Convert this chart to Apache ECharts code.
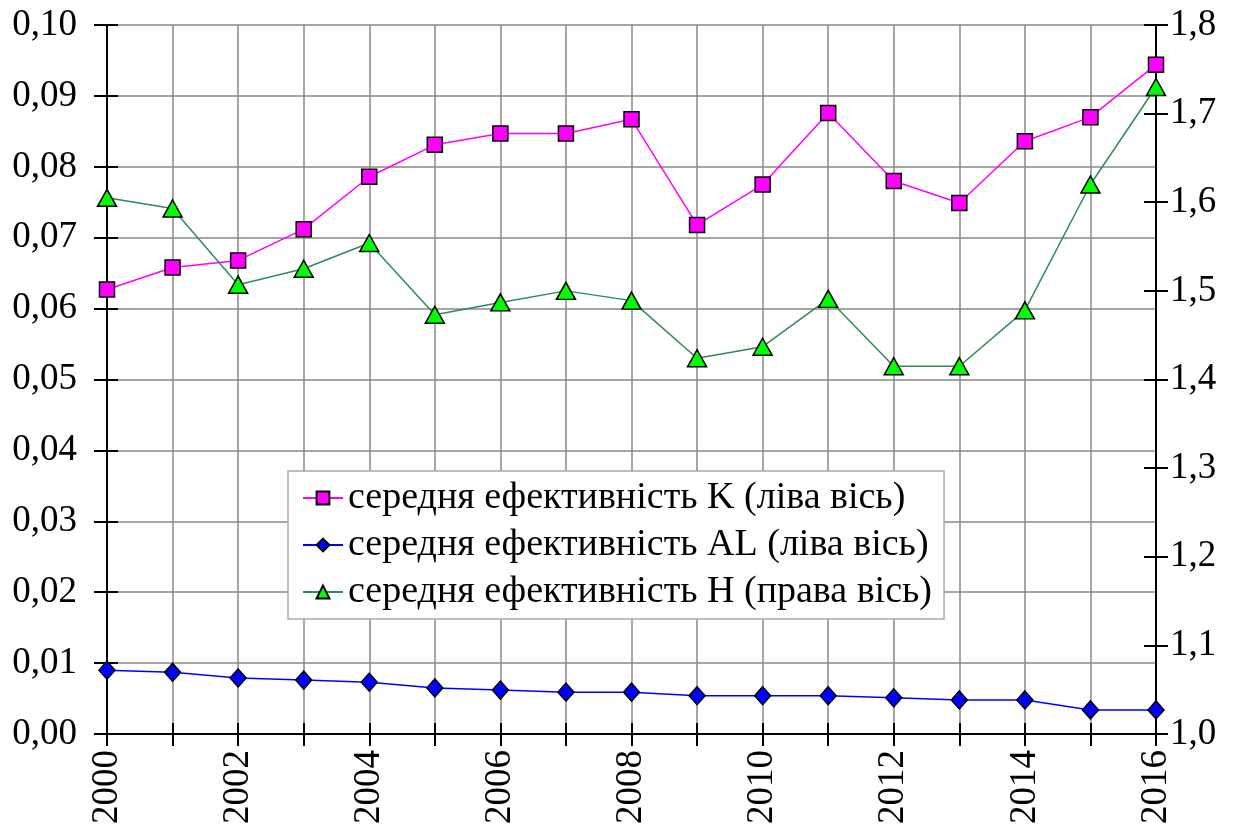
<!DOCTYPE html>
<html><head><meta charset="utf-8">
<script src="https://cdn.jsdelivr.net/npm/echarts@6/dist/echarts.min.js"></script>
<style>html,body{margin:0;padding:0;background:#fff}#c{width:1251px;height:836px}</style>
</head><body><div id="c"></div>
<script>
const years = ['2000','2001','2002','2003','2004','2005','2006','2007','2008','2009','2010','2011','2012','2013','2014','2015','2016'];
const seriesK = [0.0627,0.0658,0.0668,0.0712,0.0786,0.0831,0.0847,0.0847,0.0867,0.0718,0.0775,0.0876,0.0780,0.0749,0.0836,0.0870,0.0944];
const seriesAL = [0.0090,0.0087,0.0079,0.0076,0.0073,0.0065,0.0062,0.0059,0.0059,0.0054,0.0054,0.0054,0.0051,0.0048,0.0048,0.0034,0.0034];
const seriesH = [1.605,1.593,1.507,1.525,1.554,1.473,1.487,1.500,1.489,1.424,1.437,1.491,1.415,1.415,1.478,1.620,1.730];
const names = ['середня ефективність K (ліва вісь)','середня ефективність AL (ліва вісь)','середня ефективність H (права вісь)'];

const FONT = '"Liberation Serif", "Times New Roman", serif';
const chart = echarts.init(document.getElementById('c'), null, {renderer:'canvas'});
const axisLine = {show:true, lineStyle:{color:'#000', width:2}};
const tickStyle = {color:'#000', width:2};
chart.setOption({
  animation:false,
  backgroundColor:'#fff',
  grid:{left:107, right:95, top:25, bottom:102, containLabel:false},
  legend:{
    orient:'vertical', left:288, top:471,
    backgroundColor:'#fff', borderColor:'#aaa', borderWidth:1.5,
    padding:[8,12,8,14], itemGap:9, itemWidth:40, itemHeight:16,
    textStyle:{fontFamily:FONT, fontSize:38, lineHeight:36, color:'#000'},
    data:names
  },
  xAxis:[{
    type:'category', data:years, boundaryGap:false,
    axisLine:axisLine,
    axisTick:{show:true, inside:false, length:12, interval:0, lineStyle:tickStyle},
    axisLabel:{interval:1, rotate:90, margin:16, fontFamily:FONT, fontSize:37, color:'#000'},
    splitLine:{show:true, interval:0, lineStyle:{color:'#888', width:1.5}}
  },{
    type:'category', data:years, boundaryGap:false, position:'bottom',
    axisLine:{show:false}, axisLabel:{show:false}, splitLine:{show:false},
    axisTick:{show:true, inside:true, length:11, interval:0, lineStyle:tickStyle}
  }],
  yAxis:[{
    type:'value', min:0, max:0.1, interval:0.01, position:'left',
    axisLine:axisLine,
    axisTick:{show:true, length:13, lineStyle:tickStyle},
    axisLabel:{margin:30, fontFamily:FONT, fontSize:37, color:'#000',
      formatter:v=>v.toFixed(2).replace('.', ',')},
    splitLine:{show:true, lineStyle:{color:'#888', width:1.5}}
  },{
    type:'value', min:1.0, max:1.8, interval:0.1, position:'right',
    axisLine:axisLine,
    axisTick:{show:true, length:12, lineStyle:tickStyle},
    axisLabel:{margin:14, fontFamily:FONT, fontSize:37, color:'#000',
      formatter:v=>v.toFixed(1).replace('.', ',')},
    splitLine:{show:false}
  },{
    type:'value', min:0, max:0.1, interval:0.01, position:'left',
    axisLine:{show:false}, axisLabel:{show:false}, splitLine:{show:false},
    axisTick:{show:true, inside:true, length:11, lineStyle:tickStyle}
  },{
    type:'value', min:1.0, max:1.8, interval:0.1, position:'right',
    axisLine:{show:false}, axisLabel:{show:false}, splitLine:{show:false},
    axisTick:{show:true, inside:true, length:12, lineStyle:tickStyle}
  }],
  series:[{
    name:names[0], type:'line', yAxisIndex:0, data:seriesK,
    symbol:'rect', symbolSize:15,
    lineStyle:{color:'#ff00ff', width:1.5},
    itemStyle:{color:'#ff00ff', borderColor:'#000', borderWidth:1.5},
    z:5
  },{
    name:names[1], type:'line', yAxisIndex:0, data:seriesAL,
    symbol:'diamond', symbolSize:[16,18],
    lineStyle:{color:'#0000ff', width:1.5},
    itemStyle:{color:'#0000ff', borderColor:'#000', borderWidth:1.5},
    z:5
  },{
    name:names[2], type:'line', yAxisIndex:1, data:seriesH,
    symbol:'triangle', symbolSize:[19,17],
    lineStyle:{color:'#2e8b57', width:1.5},
    itemStyle:{color:'#00ff00', borderColor:'#000', borderWidth:1.5},
    z:5
  }]
});
</script></body></html>
